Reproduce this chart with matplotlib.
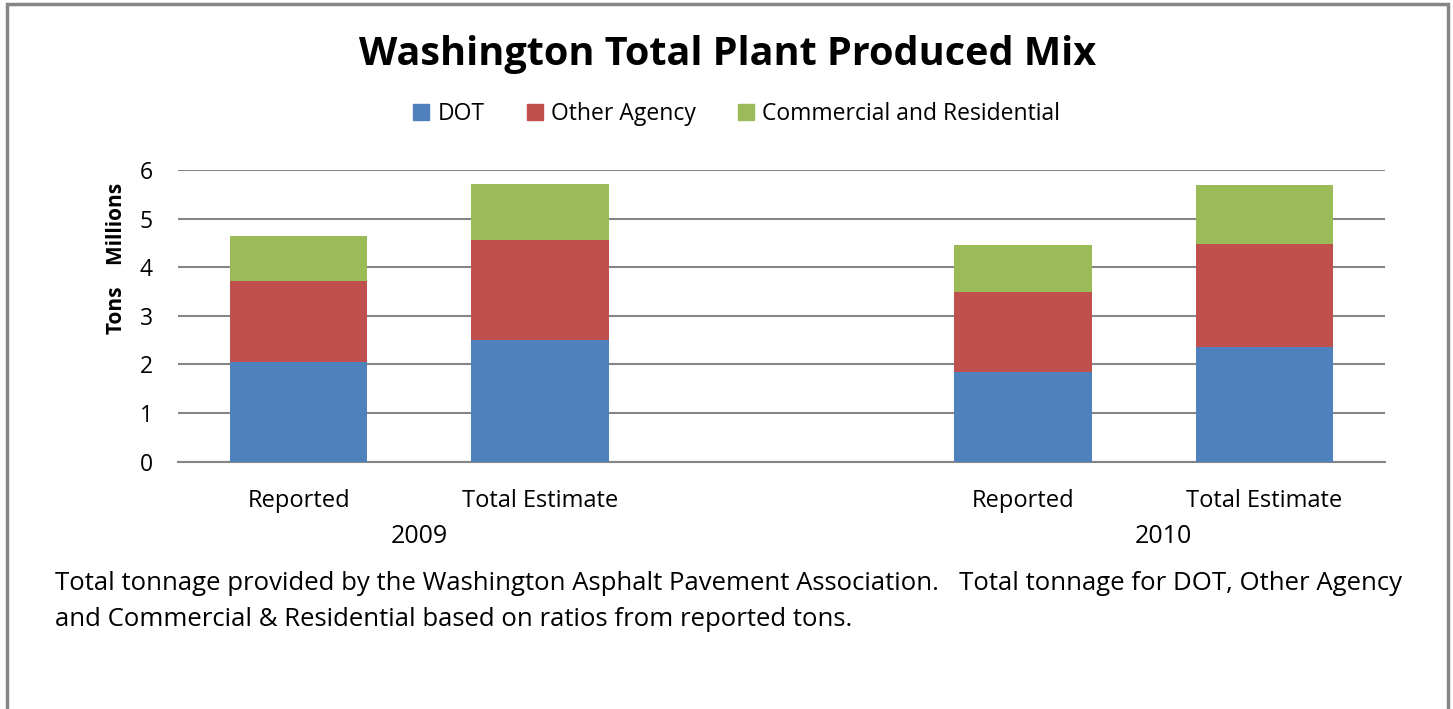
import numpy as np
import matplotlib
matplotlib.use("Agg")
import matplotlib.pyplot as plt
from matplotlib.patches import Rectangle
from matplotlib.lines import Line2D

plt.rcParams['font.family'] = ['Open Sans', 'DejaVu Sans']

# data (millions of tons)
categories = ["Reported", "Total Estimate", "Reported", "Total Estimate"]
years = ["2009", "2010"]
dot = [2.05, 2.50, 1.85, 2.35]
other_agency = [1.67, 2.06, 1.65, 2.12]
commercial = [0.92, 1.15, 0.96, 1.23]
series_names = ["DOT", "Other Agency", "Commercial and Residential"]
colors = ["#4f81bd", "#c0504d", "#9bbb59"]

x = np.array([0, 1, 3, 4])
grid_col = "#868686"

fig = plt.figure(figsize=(14.53, 7.09), dpi=100)
ax = fig.add_axes([178/1453, 1-461.7/709, 1207/1453, 291.7/709])

bottom = np.zeros(len(x))
for vals, name, c in zip([dot, other_agency, commercial], series_names, colors):
    ax.bar(x, vals, width=0.57, bottom=bottom, color=c, label=name, zorder=3)
    bottom += np.array(vals)

ax.set_xlim(-0.5, 4.5)
ax.set_ylim(0, 6)
ax.set_yticks(range(0, 7))
ax.yaxis.grid(True, color=grid_col, linewidth=1.5, zorder=0)
for s in ["left", "right", "top"]:
    ax.spines[s].set_visible(False)
ax.spines["bottom"].set_color(grid_col)
ax.spines["bottom"].set_linewidth(1.5)
ax.tick_params(axis="y", length=0, labelsize=16.5, pad=18)
ax.set_xticks(x)
ax.set_xticklabels(categories, fontsize=17)
ax.tick_params(axis="x", length=0, pad=20)

# group labels under categories
for pos, yr in zip([0.5, 3.58], years):
    ax.text(pos, -0.255, yr, transform=ax.get_xaxis_transform(),
            ha="center", va="center", fontsize=18)

fig.text(0.08, (709-258)/709, "Tons    Millions", rotation=90,
         ha="center", va="center", fontsize=15, fontweight="bold")

fig.text(728/1453, 1-55/709, "Washington Total Plant Produced Mix",
         ha="center", va="center", fontsize=28.5, fontweight="bold")

handles = [Line2D([], [], marker="s", linestyle="none", markersize=11,
                  color=c) for c in colors]
fig.legend(handles, series_names, loc="center", ncol=3,
           bbox_to_anchor=(734/1453, 1-114/709), frameon=False,
           fontsize=16.5, handletextpad=0.1, columnspacing=1.6,
           handlelength=1.2)

fig.text(55/1453, 1-583/709,
         "Total tonnage provided by the Washington Asphalt Pavement Association.   "
         "Total tonnage for DOT, Other Agency",
         ha="left", va="center", fontsize=18.5)
fig.text(55/1453, 1-620/709,
         "and Commercial & Residential based on ratios from reported tons.",
         ha="left", va="center", fontsize=18.5)

# outer frame
fig.patches.append(Rectangle((7/1453, -0.05), 1441/1453, 1.05 - 4/709,
                             transform=fig.transFigure, fill=False,
                             edgecolor=grid_col, linewidth=2.5))

fig.savefig("out.png", dpi=100)
